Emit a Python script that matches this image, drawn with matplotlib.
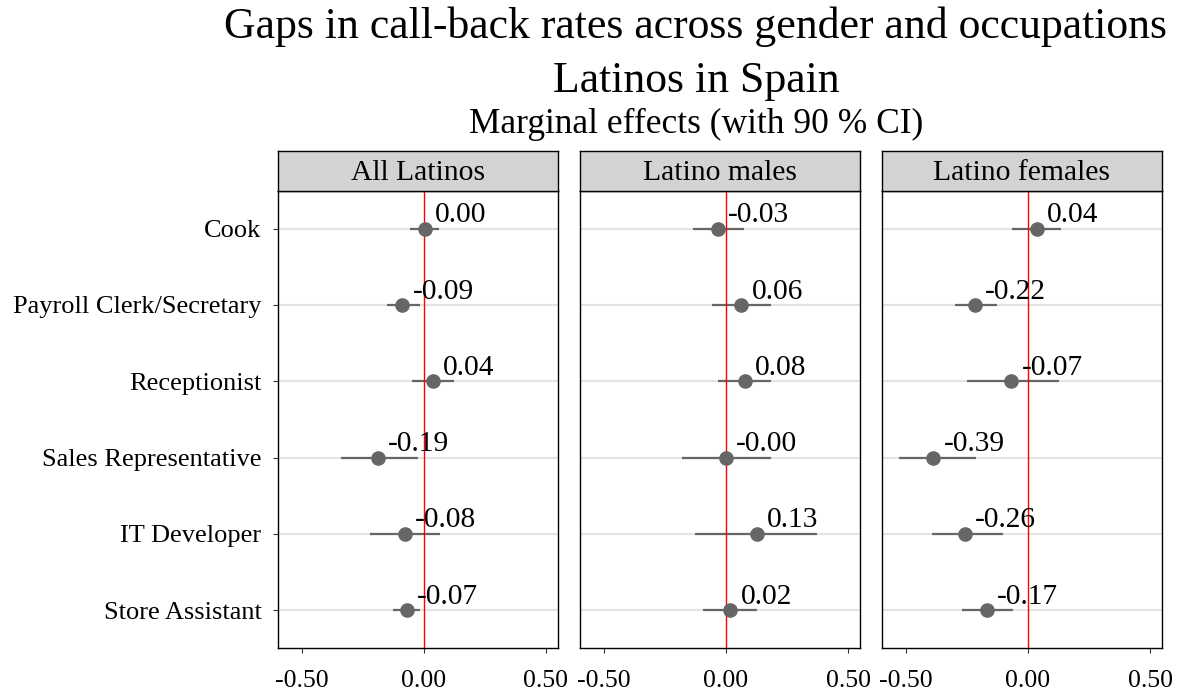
import matplotlib
matplotlib.use("Agg")
import matplotlib.pyplot as plt
import numpy as np

plt.rcParams['font.family'] = ['Liberation Serif', 'DejaVu Serif']
plt.rcParams['axes.unicode_minus'] = False

occupations = ["Cook", "Payroll Clerk/Secretary", "Receptionist",
               "Sales Representative", "IT Developer", "Store Assistant"]
panels = ["All Latinos", "Latino males", "Latino females"]

# point estimates and 90% CI bounds, one list per panel
est_all = [0.004, -0.088, 0.038, -0.188, -0.078, -0.068]
lo_all = [-0.057, -0.153, -0.049, -0.341, -0.219, -0.126]
hi_all = [0.063, -0.015, 0.123, -0.026, 0.066, -0.014]

est_male = [-0.032, 0.063, 0.078, -0.002, 0.128, 0.018]
lo_male = [-0.134, -0.059, -0.034, -0.180, -0.129, -0.093]
hi_male = [0.072, 0.184, 0.183, 0.183, 0.374, 0.125]

est_female = [0.038, -0.218, -0.068, -0.388, -0.258, -0.168]
lo_female = [-0.066, -0.300, -0.251, -0.530, -0.395, -0.269]
hi_female = [0.135, -0.126, 0.126, -0.213, -0.104, -0.060]

estimates = [est_all, est_male, est_female]
lowers = [lo_all, lo_male, lo_female]
uppers = [hi_all, hi_male, hi_female]

W, H = 1184, 696
fig = plt.figure(figsize=(W / 100, H / 100), dpi=100)

lefts = [277.5, 579.7, 881.7]
pw = 280.5
top, bottom = 190.5, 648.3
strip_top = 150.7

ypos = np.arange(1, len(occupations) + 1)
grey = '#666666'

for i, name in enumerate(panels):
    ax = fig.add_axes([lefts[i] / W, 1 - bottom / H, pw / W, (bottom - top) / H])
    for y in ypos:
        ax.axhline(y, color='#e3e3e3', lw=1.5, zorder=1)
    ax.hlines(ypos, lowers[i], uppers[i], color=grey, lw=1.6, zorder=2)
    ax.axvline(0, color='red', lw=1.0, zorder=3)
    ax.plot(estimates[i], ypos, 'o', color=grey, ms=9.5, zorder=4)
    for y, v in zip(ypos, estimates[i]):
        ax.annotate("%.2f" % v, (v, y), xytext=(7.2, 4.6), textcoords='offset points',
                    ha='left', va='baseline', fontsize=21.2, zorder=5)
    ax.set_xlim(-0.6, 0.55)
    ax.set_ylim(6.5, 0.5)
    ax.set_xticks([-0.5, 0, 0.5])
    ax.set_xticklabels(["-0.50", "0.00", "0.50"], fontsize=18.5)
    ax.tick_params(axis='x', length=3.5, width=0.8, pad=12, color='#333333')
    if i == 0:
        ax.set_yticks(ypos)
        ax.set_yticklabels(occupations, fontsize=19)
        ax.tick_params(axis='y', length=3.5, width=0.8, pad=8, color='#333333')
    else:
        ax.set_yticks([])
    for s in ax.spines.values():
        s.set_linewidth(1.0)
        s.set_color('black')

    sax = fig.add_axes([lefts[i] / W, 1 - top / H, pw / W, (top - strip_top) / H])
    sax.set_facecolor('#d3d3d3')
    sax.set_xticks([])
    sax.set_yticks([])
    for s in sax.spines.values():
        s.set_linewidth(1.0)
    sax.text(0.5, 0.45, name, ha='center', va='center', fontsize=21.3, transform=sax.transAxes)

cx = 696 / W
fig.text(cx, 1 - 38 / H, "Gaps in call-back rates across gender and occupations",
         ha='center', va='baseline', fontsize=31.5)
fig.text(cx, 1 - 92 / H, "Latinos in Spain", ha='center', va='baseline', fontsize=31.5)
fig.text(cx, 1 - 133 / H, "Marginal effects (with 90 % CI)", ha='center', va='baseline',
         fontsize=25.5)

fig.savefig("out.png", dpi=100)
